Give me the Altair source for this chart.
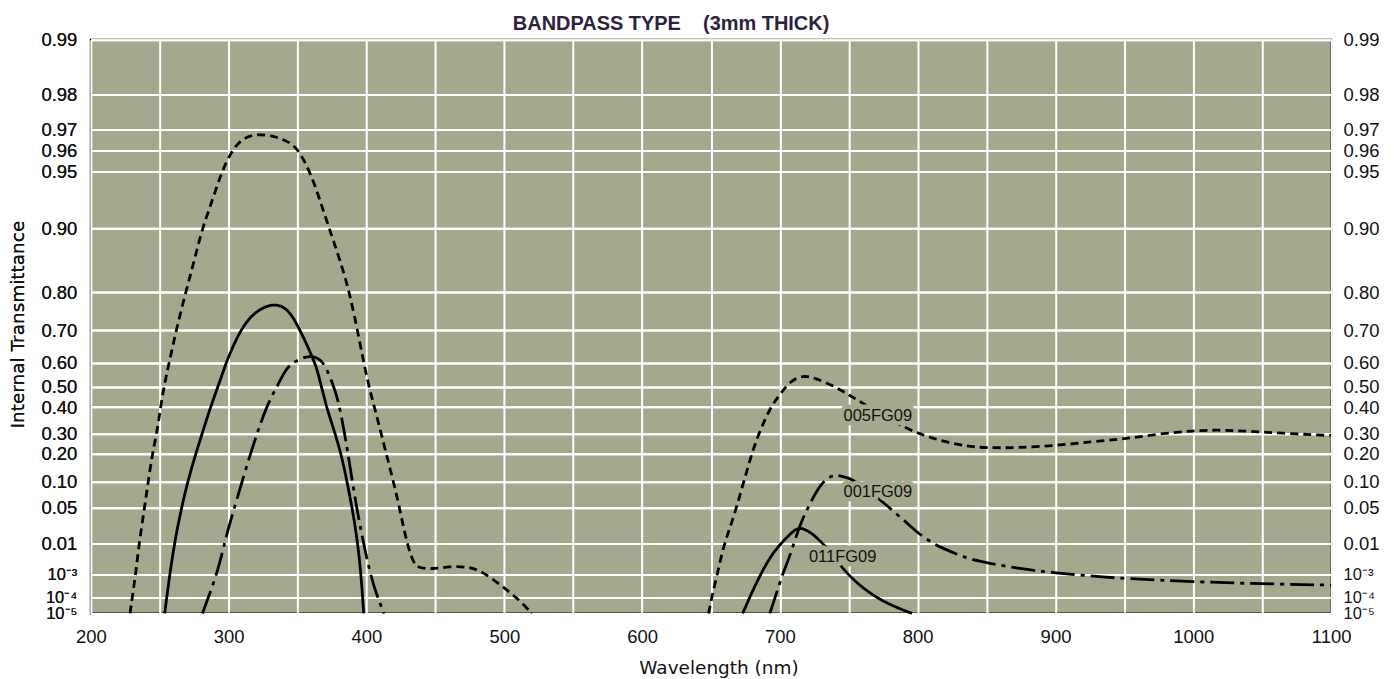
import math
import altair as alt
import pandas as pd

# ---------------- data ----------------
# 005FG09 (short dashes)
f005_a_nm = [228.5, 230, 232.5, 235, 239, 241.6, 244.7, 247.8, 250.7, 253, 256.8, 262, 268.8, 274.8, 280.8,
             288, 295, 302.5, 310, 320.5, 333, 341, 349.4, 359, 366, 373, 380.6, 387.8, 395, 401, 407,
             413, 418, 422.7, 426.3, 430, 434.7, 438, 448, 460, 473, 484, 498.5, 510.5, 520]
f005_a_T = [1e-5, 1e-4, 1e-3, 0.01, 0.05, 0.10, 0.20, 0.30, 0.40, 0.50, 0.60, 0.70, 0.80, 0.855, 0.90,
            0.928, 0.95, 0.96, 0.966, 0.968, 0.967, 0.965, 0.962, 0.95, 0.93, 0.90, 0.86, 0.80, 0.67, 0.516, 0.377,
            0.235, 0.128, 0.063, 0.027, 0.0086, 0.0023, 0.0018, 0.0016, 0.002, 0.002, 0.00135, 0.00034, 0.00008, 1e-5]
f005_b_nm = [648.3, 650.7, 654.3, 658, 661.5, 665, 668.7, 673.5, 678.3, 683, 689, 695, 701, 707, 716.7, 726,
             740.6, 750, 762, 788.7, 800.7, 817.6, 836.8, 850, 870.4, 900, 925.7, 950, 974, 1000, 1022, 1050,
             1097, 1100]
f005_b_T = [1e-5, 1.2e-4, 8.6e-4, 5.6e-3, 0.0148, 0.0273, 0.0515, 0.097, 0.176, 0.268, 0.352, 0.42, 0.47, 0.523,
            0.551, 0.538, 0.50, 0.461, 0.412, 0.326, 0.30, 0.26, 0.234, 0.228, 0.228, 0.238, 0.258, 0.272, 0.297,
            0.311, 0.314, 0.305, 0.29, 0.29]

# 011FG09 (solid)
f011_a_nm = [253.6, 256.8, 260.4, 264, 268.8, 274.8, 280.8, 286.8, 294, 298.8, 308.4, 318, 331, 342,
             349.4, 356.6, 363.8, 366, 369.8, 371, 380.6, 385.5, 390.3, 393.9, 396.3, 398]
f011_a_T = [1e-5, 6.5e-4, 0.009, 0.031, 0.083, 0.176, 0.30, 0.40, 0.53, 0.61, 0.70, 0.75, 0.775, 0.765,
            0.72, 0.66, 0.585, 0.53, 0.44, 0.40, 0.23, 0.11, 0.041, 0.009, 7e-4, 1e-5]
f011_b_nm = [673, 680.7, 687.9, 695, 702.3, 709.5, 714.3, 721.4, 731, 740.6, 750.2, 764.7, 779, 795.8]
f011_b_T = [1e-5, 2.5e-4, 1.6e-3, 5.6e-3, 0.0115, 0.019, 0.0227, 0.019, 0.0106, 0.0035, 8.6e-4, 1.7e-4, 4e-5, 1e-5]

# 001FG09 (dash-dot)
f001_a_nm = [281, 289.2, 294, 298.8, 304.8, 315.7, 324, 330, 336, 342, 351.7, 360.2, 368.6, 375.8, 379.4,
             384.2, 387.8, 392.6, 397.5, 402.2, 407, 412.7]
f001_a_T = [1e-5, 4.7e-4, 3e-3, 0.0175, 0.054, 0.20, 0.352, 0.44, 0.51, 0.585, 0.615, 0.625, 0.61, 0.51, 0.44,
            0.30, 0.16, 0.052, 0.012, 1.4e-3, 1.6e-4, 1e-5]
f001_b_nm = [692.7, 697.5, 702.3, 707, 714.3, 721.5, 729.8, 738.3, 743, 752.6, 774.3, 793.5, 803, 812.8, 817.4,
             836.8, 850, 877.6, 900, 925.7, 950, 1000, 1050, 1100]
f001_b_T = [1e-5, 1.6e-4, 1.2e-3, 4e-3, 0.025, 0.055, 0.098, 0.1225, 0.12, 0.112, 0.06, 0.0255, 0.0148, 0.0096,
            0.0078, 0.0036, 0.0027, 0.00155, 0.00117, 0.00087, 0.0007, 0.00052, 0.00043, 0.00038]

# curve labels
ann_text = ["005FG09", "001FG09", "011FG09"]
ann_nm = [746.2, 746.2, 721.1]
ann_T = [0.367, 0.0774, 0.0042]

# y axis ticks (internal transmittance)
tick_T = [0.99, 0.98, 0.97, 0.96, 0.95, 0.90, 0.80, 0.70, 0.60, 0.50, 0.40, 0.30, 0.20, 0.10, 0.05, 0.01,
          1e-3, 1e-4, 1e-5]
tick_labels = ["0.99", "0.98", "0.97", "0.96", "0.95", "0.90", "0.80", "0.70", "0.60", "0.50", "0.40", "0.30",
               "0.20", "0.10", "0.05", "0.01", "10\u207b\u00b3", "10\u207b\u2074", "10\u207b\u2075"]
# x axis grid every 50 nm, labels every 100 nm
x_ticks = list(range(200, 1101, 50))

# scale geometry: pixel position of each y tick from the top of the plot (as drawn in the original)
tick_px = [0, 54.7, 89.7, 110.7, 132, 189.3, 253.3, 291, 324, 348, 368.3, 394.7, 415, 443.3, 468.7,
           505.3, 536, 559.3, 575]

# ---------------- build tables ----------------
rows = []
for name, seg, nms, ts in [
    ("005FG09", "a", f005_a_nm, f005_a_T), ("005FG09", "b", f005_b_nm, f005_b_T),
    ("011FG09", "a", f011_a_nm, f011_a_T), ("011FG09", "b", f011_b_nm, f011_b_T),
    ("001FG09", "a", f001_a_nm, f001_a_T), ("001FG09", "b", f001_b_nm, f001_b_T),
]:
    for n, t in zip(nms, ts):
        rows.append({"filter": name, "seg": name + seg, "nm": n, "T": t})
curves = pd.DataFrame(rows)
ann = pd.DataFrame({"text": ann_text, "nm": ann_nm, "T": ann_T})


def dbl_log(t):
    return math.log10(-math.log10(t))


tick_u = [dbl_log(t) for t in tick_T]
label_expr = ""
for u, lab in zip(tick_u, tick_labels):
    label_expr += f"abs(datum.value - ({u:.6f})) < 0.0005 ? '{lab}' : "
label_expr += "''"

U_EXPR = "log(-log(datum.T) / LN10) / LN10"
NARROW = "Liberation Sans Narrow, Arial Narrow, Liberation Sans, sans-serif"
WIDE = "DejaVu Sans, Verdana, sans-serif"
BG = "#a4a88c"
small_pow = {"condition": {"test": "datum.value > 0.45", "value": 16.5}, "value": 18.5}

y_scale = alt.Scale(domain=tick_u, range=tick_px, zero=False, nice=False)
x_scale = alt.Scale(domain=[200, 1100], zero=False, nice=False)

x_axis = alt.Axis(values=x_ticks, format="d",
                  labelExpr="datum.value % 100 == 0 ? datum.label : ''",
                  grid=True, gridColor="white", gridWidth=2, gridOpacity=1,
                  ticks=False, domain=False, labelFont=NARROW, labelFontSize=18.5,
                  labelColor="#111111", labelPadding=14, labelOverlap=False, labelFlush=False,
                  title="Wavelength (nm)", titleFont=WIDE, titleFontSize=18.5, titleFontWeight="normal",
                  titleColor="#111111", titleBaseline="middle", titleY=54, titleX=629)

y_axis_left = alt.Axis(values=tick_u, labelExpr=label_expr, orient="left",
                       grid=True, gridColor="white", gridWidth=2, gridOpacity=1,
                       ticks=False, domain=False, labelFont=NARROW, labelFontSize=small_pow,
                       labelColor="#111111", labelPadding=14, labelOverlap=False, labelFlush=False,
                       labelBaseline="middle",
                       title="Internal Transmittance", titleFont=WIDE, titleFontSize=18.5,
                       titleFontWeight="normal", titleColor="#111111", titleBaseline="middle",
                       titleX=-73, titleY=285)

y_axis_right = alt.Axis(values=tick_u, labelExpr=label_expr, orient="right",
                        grid=False, ticks=False, domain=False, labelFont=NARROW, labelFontSize=small_pow,
                        labelColor="#111111", labelPadding=12, labelOverlap=False, labelFlush=False,
                        labelBaseline="middle", title="")

lines = alt.Chart(curves).transform_calculate(u=U_EXPR).mark_line(
    color="black", strokeWidth=2.8, interpolate="basis"
).encode(
    x=alt.X("nm:Q", scale=x_scale, axis=x_axis),
    y=alt.Y("u:Q", scale=y_scale, axis=y_axis_left),
    detail="seg:N",
    strokeDash=alt.StrokeDash("filter:N",
                              scale=alt.Scale(domain=["005FG09", "011FG09", "001FG09"],
                                              range=[[8, 5], [1, 0], [24, 6, 4, 6]]),
                              legend=None),
)

# background-coloured halo so the curves are interrupted behind the labels
halo = alt.Chart(ann).transform_calculate(u=U_EXPR).mark_text(
    align="left", baseline="middle", font=NARROW, fontSize=16.5, color=BG,
    stroke=BG, strokeWidth=9, strokeJoin="round"
).encode(
    x=alt.X("nm:Q", scale=x_scale, axis=x_axis),
    y=alt.Y("u:Q", scale=y_scale, axis=y_axis_left),
    text="text:N",
)

labels = alt.Chart(ann).transform_calculate(u=U_EXPR).mark_text(
    align="left", baseline="middle", font=NARROW, fontSize=16.5, color="#111111"
).encode(
    x=alt.X("nm:Q", scale=x_scale, axis=x_axis),
    y=alt.Y("u:Q", scale=y_scale, axis=y_axis_right),
    text="text:N",
)

chart = alt.layer(lines, halo, labels).resolve_axis(y="independent").properties(
    width=1243, height=575,
    autosize=alt.AutoSizeParams(type="none"),
    padding={"left": 83, "top": 31, "right": 55, "bottom": 65},
    background="white",
    title=alt.TitleParams("BANDPASS TYPE\u00a0\u00a0\u00a0\u00a0(3mm THICK)", font=NARROW, fontSize=20,
                          fontWeight="bold", color="#2b2340", anchor="middle", dx=-40, offset=-3),
).configure_view(fill=BG, stroke="black", strokeWidth=2)

chart.save("out.html", embed_options={"renderer": "svg", "actions": False})
